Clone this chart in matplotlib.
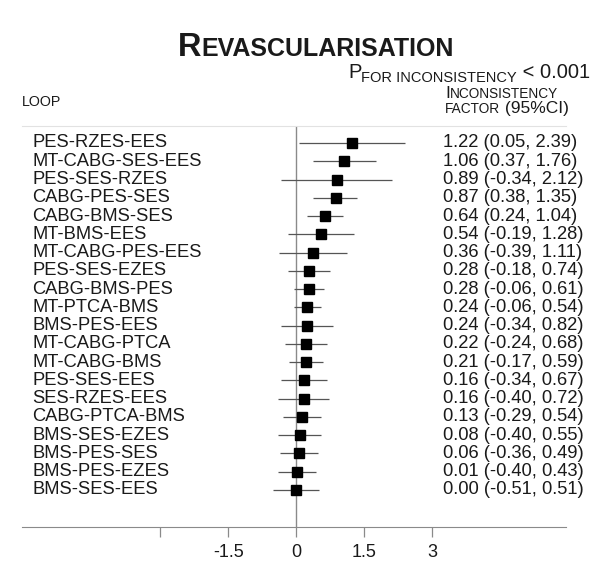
"""Forest plot of loop inconsistency factors for revascularisation."""

import matplotlib

matplotlib.use("Agg")
import matplotlib.pyplot as plt
from matplotlib.transforms import blended_transform_factory

LOOPS = [
    "PES-RZES-EES",
    "MT-CABG-SES-EES",
    "PES-SES-RZES",
    "CABG-PES-SES",
    "CABG-BMS-SES",
    "MT-BMS-EES",
    "MT-CABG-PES-EES",
    "PES-SES-EZES",
    "CABG-BMS-PES",
    "MT-PTCA-BMS",
    "BMS-PES-EES",
    "MT-CABG-PTCA",
    "MT-CABG-BMS",
    "PES-SES-EES",
    "SES-RZES-EES",
    "CABG-PTCA-BMS",
    "BMS-SES-EZES",
    "BMS-PES-SES",
    "BMS-PES-EZES",
    "BMS-SES-EES",
]
ESTIMATES = [1.22, 1.06, 0.89, 0.87, 0.64, 0.54, 0.36, 0.28, 0.28, 0.24,
             0.24, 0.22, 0.21, 0.16, 0.16, 0.13, 0.08, 0.06, 0.01, 0.00]
CI_LOWER = [0.05, 0.37, -0.34, 0.38, 0.24, -0.19, -0.39, -0.18, -0.06, -0.06,
            -0.34, -0.24, -0.17, -0.34, -0.40, -0.29, -0.40, -0.36, -0.40, -0.51]
CI_UPPER = [2.39, 1.76, 2.12, 1.35, 1.04, 1.28, 1.11, 0.74, 0.61, 0.54,
            0.82, 0.68, 0.59, 0.67, 0.72, 0.54, 0.55, 0.49, 0.43, 0.51]
X_TICKS = [-3, -1.5, 0, 1.5, 3]
X_TICK_LABELS = ["", "-1.5", "0", "1.5", "3"]

FONT = "Liberation Sans"
TEXT_COLOR = "#1a1a1a"
LINE_COLOR = "#8a8a8a"
WIDTH, HEIGHT = 594, 564


def fig_xy(x, y):
    # pixel position (from top-left) -> figure fraction
    return x / WIDTH, 1 - y / HEIGHT


def text_run(ax, x, y, parts, **kwargs):
    """Draw text pieces one after another on a shared baseline.

    parts: (text, fontsize, drop in px) tuples; drop lowers a piece (subscript).
    """
    prev = None
    for text, size, drop in parts:
        _, fy = fig_xy(x, y + drop)
        if prev is None:
            fx, _ = fig_xy(x, y)
            prev = ax.annotate(text, xy=(fx, fy), xycoords="figure fraction",
                               ha="left", va="baseline", fontsize=size,
                               family=FONT, color=TEXT_COLOR, **kwargs)
        else:
            prev = ax.annotate(text, xy=(1, fy), xycoords=(prev, "figure fraction"),
                               ha="left", va="baseline", fontsize=size,
                               family=FONT, color=TEXT_COLOR, **kwargs)
    return prev


def main():
    fig, ax = plt.subplots(figsize=(WIDTH / 100, HEIGHT / 100), dpi=100)
    left, top = fig_xy(22, 126)
    right, bottom = fig_xy(566, 527)
    ax.set_position([left, bottom, right - left, top - bottom])

    n = len(LOOPS)
    rows = [n - i for i in range(n)]

    ax.axvline(0, color=LINE_COLOR, lw=1, zorder=1)
    ax.hlines(rows, CI_LOWER, CI_UPPER, color="#555555", lw=0.9, zorder=2)
    ax.plot(ESTIMATES, rows, "s", color="black", markersize=6.5, zorder=3)

    ax.set_xlim(-6.05, 5.95)
    ax.set_ylim(-1.03, n + 0.93)
    ax.set_yticks([])
    ax.set_xticks(X_TICKS)
    ax.set_xticklabels(X_TICK_LABELS, fontsize=13, family=FONT, color=TEXT_COLOR)
    ax.tick_params(axis="x", length=7, width=0.9, color=LINE_COLOR, pad=5)
    for side in ("left", "right"):
        ax.spines[side].set_visible(False)
    ax.spines["bottom"].set_color(LINE_COLOR)
    ax.spines["top"].set_color("#e2e2e2")

    # loop names on the left, estimates with CI on the right
    row_trans = blended_transform_factory(fig.transFigure, ax.transData)
    for y, loop, est, lo, hi in zip(rows, LOOPS, ESTIMATES, CI_LOWER, CI_UPPER):
        ax.text(32 / WIDTH, y, loop, transform=row_trans, ha="left", va="center",
                fontsize=13.2, family=FONT, color=TEXT_COLOR)
        ax.text(443 / WIDTH, y, f"{est:.2f} ({lo:.2f}, {hi:.2f})", transform=row_trans,
                ha="left", va="center", fontsize=13.2, family=FONT, color=TEXT_COLOR)

    # headers, drawn as small caps
    text_run(ax, 178, 56, [("R", 23.5, 0), ("EVASCULARISATION", 18, 0)], weight="bold")
    text_run(ax, 348, 78, [("P", 14.5, 0), ("FOR INCONSISTENCY", 10.5, 4),
                           (" < 0.001", 14.5, 0)])
    text_run(ax, 445, 98, [("I", 12.5, 0), ("NCONSISTENCY", 9.8, 0)])
    text_run(ax, 445, 113, [("FACTOR", 9.8, 0), (" (95%CI)", 12.5, 0)])
    text_run(ax, 22, 106, [("LOOP", 10.3, 0)])

    fig.savefig("out.png", dpi=100)
    plt.close(fig)


if __name__ == "__main__":
    main()
